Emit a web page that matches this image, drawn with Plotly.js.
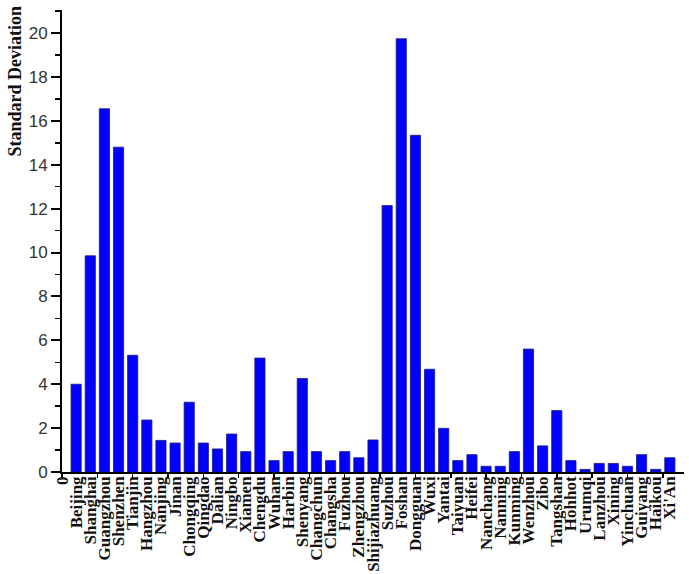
<!DOCTYPE html>
<html>
<head>
<meta charset="utf-8">
<script src="https://cdn.plot.ly/plotly-3.0.1.min.js"></script>
<style>html,body{margin:0;padding:0;background:#fff;}#chart{width:689px;height:574px;}</style>
</head>
<body>
<div id="chart"></div>
<script>
const cities = ["Beijing","Shanghai","Guangzhou","Shenzhen","Tianjin","Hangzhou","Nanjing","Jinan","Chongqing","Qingdao","Dalian","Ningbo","Xiamen","Chengdu","Wuhan","Harbin","Shenyang","Changchun","Changsha","Fuzhou","Zhengzhou","Shijiazhuang","Suzhou","Foshan","Dongguan","Wuxi","Yantai","Taiyuan","Heifei","Nanchang","Nanning","Kunming","Wenzhou","Zibo","Tangshan","Hohhot","Urumqi","Lanzhou","Xining","Yinchuan","Guiyang","Haikou","Xi'An"];
const stdDev = [4.0,9.85,16.55,14.8,5.32,2.37,1.44,1.32,3.18,1.32,1.05,1.73,0.93,5.19,0.52,0.93,4.26,0.93,0.52,0.93,0.65,1.46,12.14,19.74,15.34,4.68,1.99,0.52,0.79,0.26,0.26,0.93,5.6,1.19,2.8,0.52,0.12,0.39,0.39,0.26,0.79,0.12,0.65];
const positions = cities.map((c, i) => i + 1);
const xTickVals = [0].concat(positions);
const xTickText = ["0"].concat(cities);

const bars = {
  type: 'bar',
  x: positions,
  y: stdDev,
  width: 0.72,
  marker: {color: '#0000FF', line: {color: '#1a1a80', width: 0.8}},
  hoverinfo: 'x+y'
};
// same data on the label axis, drawn with no marks, so the label axis is created
const labelCarrier = {
  type: 'scatter', mode: 'none',
  x: positions, y: stdDev,
  xaxis: 'x2', yaxis: 'y',
  hoverinfo: 'skip', showlegend: false
};

const layout = {
  width: 689, height: 574,
  margin: {l: 62, r: 5, t: 10, b: 102},
  paper_bgcolor: '#fff', plot_bgcolor: '#fff',
  showlegend: false,
  xaxis: {
    range: [0, 44], autorange: false,
    tickmode: 'linear', tick0: 0, dtick: 2.5,
    ticks: 'outside', ticklen: 4, tickwidth: 1.5, tickcolor: '#000',
    showticklabels: false,
    showline: true, linewidth: 2, linecolor: '#000',
    showgrid: false, zeroline: false, automargin: false
  },
  xaxis2: {
    overlaying: 'x', anchor: 'y', side: 'bottom',
    range: [0, 44], autorange: false,
    tickmode: 'array', tickvals: xTickVals, ticktext: xTickText,
    ticks: '', tickangle: -90,
    tickfont: {family: 'Liberation Serif, Times New Roman, serif', size: 17, color: '#111', weight: 'bold'},
    showline: false, showgrid: false, zeroline: false, automargin: false
  },
  yaxis: {
    range: [0, 21.05], autorange: false,
    tickmode: 'linear', tick0: 0, dtick: 2,
    ticks: 'outside', ticklen: 9, tickwidth: 2, tickcolor: '#000',
    minor: {tickmode: 'linear', tick0: 0, dtick: 1, ticks: 'outside', ticklen: 5, tickwidth: 1.5, tickcolor: '#000'},
    tickfont: {family: 'Liberation Sans, Arial, sans-serif', size: 17, color: '#333'},
    showline: true, linewidth: 2, linecolor: '#000',
    showgrid: false, zeroline: false, automargin: false
  },
  annotations: [{
    text: 'Standard Deviation',
    xref: 'paper', yref: 'paper',
    x: -0.075, y: 0.846, xanchor: 'center', yanchor: 'middle',
    textangle: -90, showarrow: false,
    font: {family: 'Liberation Serif, Times New Roman, serif', size: 18, color: '#111', weight: 'bold'}
  }]
};

Plotly.newPlot('chart', [bars, labelCarrier], layout, {displayModeBar: false, staticPlot: true});
</script>
</body>
</html>
